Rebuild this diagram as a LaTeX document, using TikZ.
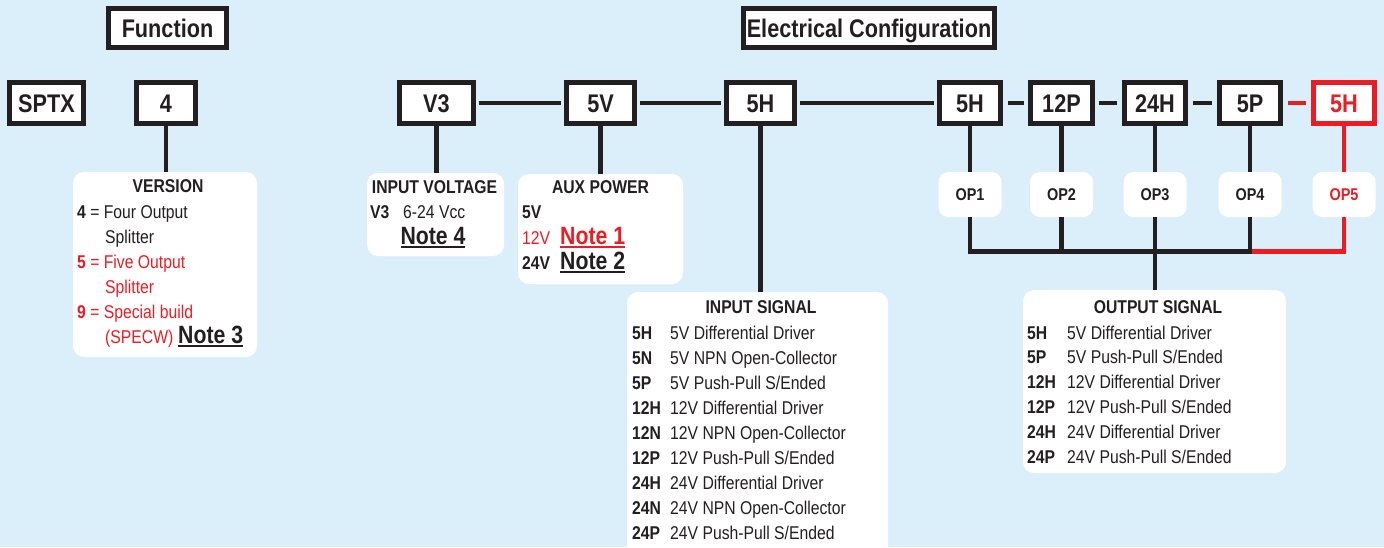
\documentclass[tikz,border=0pt]{standalone}
\usepackage{fontspec}
\setmainfont{Liberation Sans}[FakeStretch=0.85]
\definecolor{bg}{RGB}{219,239,251}
\definecolor{ink}{RGB}{35,31,32}
\definecolor{myred}{RGB}{237,28,36}
\newcommand{\noteul}[1]{\setbox0\hbox{#1}\rlap{\rule[-3.5pt]{\wd0}{2pt}}\box0}
\begin{document}
\begin{tikzpicture}[x=1pt,y=-1pt,
  codebox/.style={draw=ink, line width=4.8pt, fill=white, text=ink,
    font=\bfseries\fontsize{25.5}{26}\selectfont, inner sep=0pt,
    text height=18.3pt, text depth=0pt, minimum height=41.5pt},
  infobox/.style={fill=white, rounded corners=11pt, inner sep=0pt},
  opbox/.style={fill=white, rounded corners=10pt, inner sep=0pt,
    minimum width=63pt, minimum height=45pt, text=ink,
    font=\bfseries\fontsize{17}{18}\selectfont, text height=12.2pt, text depth=0pt},
  lbl/.style={inner sep=0pt, anchor=base west, text=ink, font=\fontsize{18.5}{20}\selectfont},
  code/.style={lbl, font=\bfseries\fontsize{18.5}{20}\selectfont},
  ttl/.style={inner sep=0pt, anchor=base, text=ink, font=\bfseries\fontsize{18.5}{20}\selectfont},
  note/.style={inner sep=0pt, anchor=base west, text=ink, font=\bfseries\fontsize{25}{26}\selectfont},
  conn/.style={draw=ink, line width=4.8pt},
  rconn/.style={draw=myred, line width=4.8pt}
]
\fill[bg] (0,0) rectangle (1384,547);
\useasboundingbox (0,0) rectangle (1384,547);

% header boxes
\node[codebox, minimum width=118.5pt, minimum height=39.5pt] (func) at (167.5,28) {Function};
\node[codebox, minimum width=251.5pt, minimum height=39.5pt] (elec) at (869,28) {Electrical Configuration};

% code boxes
\node[codebox, minimum width=74.5pt] (sptx) at (46.5,103) {SPTX};
\node[codebox, minimum width=59.5pt] (four) at (166,103) {4};
\node[codebox, minimum width=74.5pt] (v3) at (436.5,103) {V3};
\node[codebox, minimum width=68.5pt] (fivev) at (600.5,103) {5V};
\node[codebox, minimum width=68.5pt] (inh) at (760.5,103) {5H};
\node[codebox, minimum width=61.5pt] (o1) at (970,103) {5H};
\node[codebox, minimum width=61.5pt] (o2) at (1061.5,103) {12P};
\node[codebox, minimum width=61.5pt] (o3) at (1155,103) {24H};
\node[codebox, minimum width=61.5pt] (o4) at (1250,103) {5P};
\node[codebox, minimum width=61.5pt, draw=myred, text=myred] (o5) at (1344,103) {5H};

% info boxes
\node[infobox, minimum width=184pt, minimum height=185pt] (ver) at (165,264.5) {};
\node[infobox, minimum width=137pt, minimum height=83pt] (iv) at (435.5,214.5) {};
\node[infobox, minimum width=165pt, minimum height=110pt] (aux) at (600.5,229) {};
\node[infobox, minimum width=261pt, minimum height=268pt] (ins) at (757.5,426) {};
\node[infobox, minimum width=263pt, minimum height=183pt] (outs) at (1154.5,381.5) {};

% OP boxes
\node[opbox] (op1) at (970,194.5) {OP1};
\node[opbox] (op2) at (1061.5,194.5) {OP2};
\node[opbox] (op3) at (1155,194.5) {OP3};
\node[opbox] (op4) at (1250,194.5) {OP4};
\node[opbox, text=myred] (op5) at (1344,194.5) {OP5};
\coordinate (bus) at (1250,251.5);

% connectors
\draw[conn, shorten <=2.5pt, shorten >=2.5pt] (v3) -- (fivev);
\draw[conn, shorten <=2.5pt, shorten >=2.5pt] (fivev) -- (inh);
\draw[conn, shorten <=2.5pt, shorten >=2.5pt] (inh) -- (o1);
\draw[conn, shorten <=4.5pt, shorten >=4.5pt] (o1) -- (o2);
\draw[conn, shorten <=4.5pt, shorten >=4.5pt] (o2) -- (o3);
\draw[conn, shorten <=4.5pt, shorten >=4.5pt] (o3) -- (o4);
\draw[rconn, shorten <=4.5pt, shorten >=4.5pt] (o4) -- (o5);

\draw[conn] (four.south) -- (four.south |- ver.north);
\draw[conn] (v3.south) -- (v3.south |- iv.north);
\draw[conn] (fivev.south) -- (fivev.south |- aux.north);
\draw[conn] (inh.south) -- (inh.south |- ins.north);

\draw[conn] (o1.south) -- (op1.north);
\draw[conn] (o2.south) -- (op2.north);
\draw[conn] (o3.south) -- (op3.north);
\draw[conn] (o4.south) -- (op4.north);
\draw[rconn] (o5.south) -- (op5.north);

\draw[rconn, line join=miter] (op5.south) |- (bus);
\draw[conn, line join=miter] (op1.south) |- (bus) -- (op4.south);
\draw[conn] (op2.south) -- (op2.south |- bus);
\draw[conn] (op3.south) -- (op3.south |- outs.north);

% VERSION
\node[ttl] (verT) at (168,192) {VERSION};
\node[lbl] (v4) at (77,218) {\textbf{4} = Four Output};
\node[lbl] (v4b) at (105,243) {Splitter};
\node[lbl, text=myred] (v5) at (77,268) {\textbf{5} = Five Output};
\node[lbl, text=myred] (v5b) at (105,293) {Splitter};
\node[lbl, text=myred] (v9) at (77,318) {\textbf{9} = Special build};
\node[lbl, text=myred] (v9b) at (105,343) {(SPECW)};
\node[note] (n3) at (178,343) {\noteul{Note 3}};

% INPUT VOLTAGE
\node[ttl] (ivT) at (434.5,193) {INPUT VOLTAGE};
\node[code] (ivc) at (370,218) {V3};
\node[lbl] (ivd) at (403,218) {6-24 Vcc};
\node[note, anchor=base] (n4) at (433,244) {\noteul{Note 4}};

% AUX POWER
\node[ttl] (auxT) at (600.5,193) {AUX POWER};
\node[code] (a5) at (522,218) {5V};
\node[lbl, text=myred] (a12) at (522,244) {12V};
\node[note, text=myred] (n1) at (560,244) {\noteul{Note 1}};
\node[code] (a24) at (522,269) {24V};
\node[note] (n2) at (560,269) {\noteul{Note 2}};

% INPUT SIGNAL
\node[ttl] (insT) at (761,313) {INPUT SIGNAL};
\foreach \c/\d [count=\i from 0] in {5H/{5V Differential Driver}, 5N/{5V NPN Open-Collector}, 5P/{5V Push-Pull S/Ended}, 12H/{12V Differential Driver}, 12N/{12V NPN Open-Collector}, 12P/{12V Push-Pull S/Ended}, 24H/{24V Differential Driver}, 24N/{24V NPN Open-Collector}, 24P/{24V Push-Pull S/Ended}}{
  \node[code] (ic\i) at (632,339+25*\i) {\c};
  \node[lbl] (id\i) at (670,339+25*\i) {\d};
}

% OUTPUT SIGNAL
\node[ttl] (outT) at (1158,313) {OUTPUT SIGNAL};
\foreach \c/\d [count=\i from 0] in {5H/{5V Differential Driver}, 5P/{5V Push-Pull S/Ended}, 12H/{12V Differential Driver}, 12P/{12V Push-Pull S/Ended}, 24H/{24V Differential Driver}, 24P/{24V Push-Pull S/Ended}}{
  \node[code] (oc\i) at (1027,339+24.9*\i) {\c};
  \node[lbl] (od\i) at (1067,339+24.9*\i) {\d};
}
\end{tikzpicture}
\end{document}
